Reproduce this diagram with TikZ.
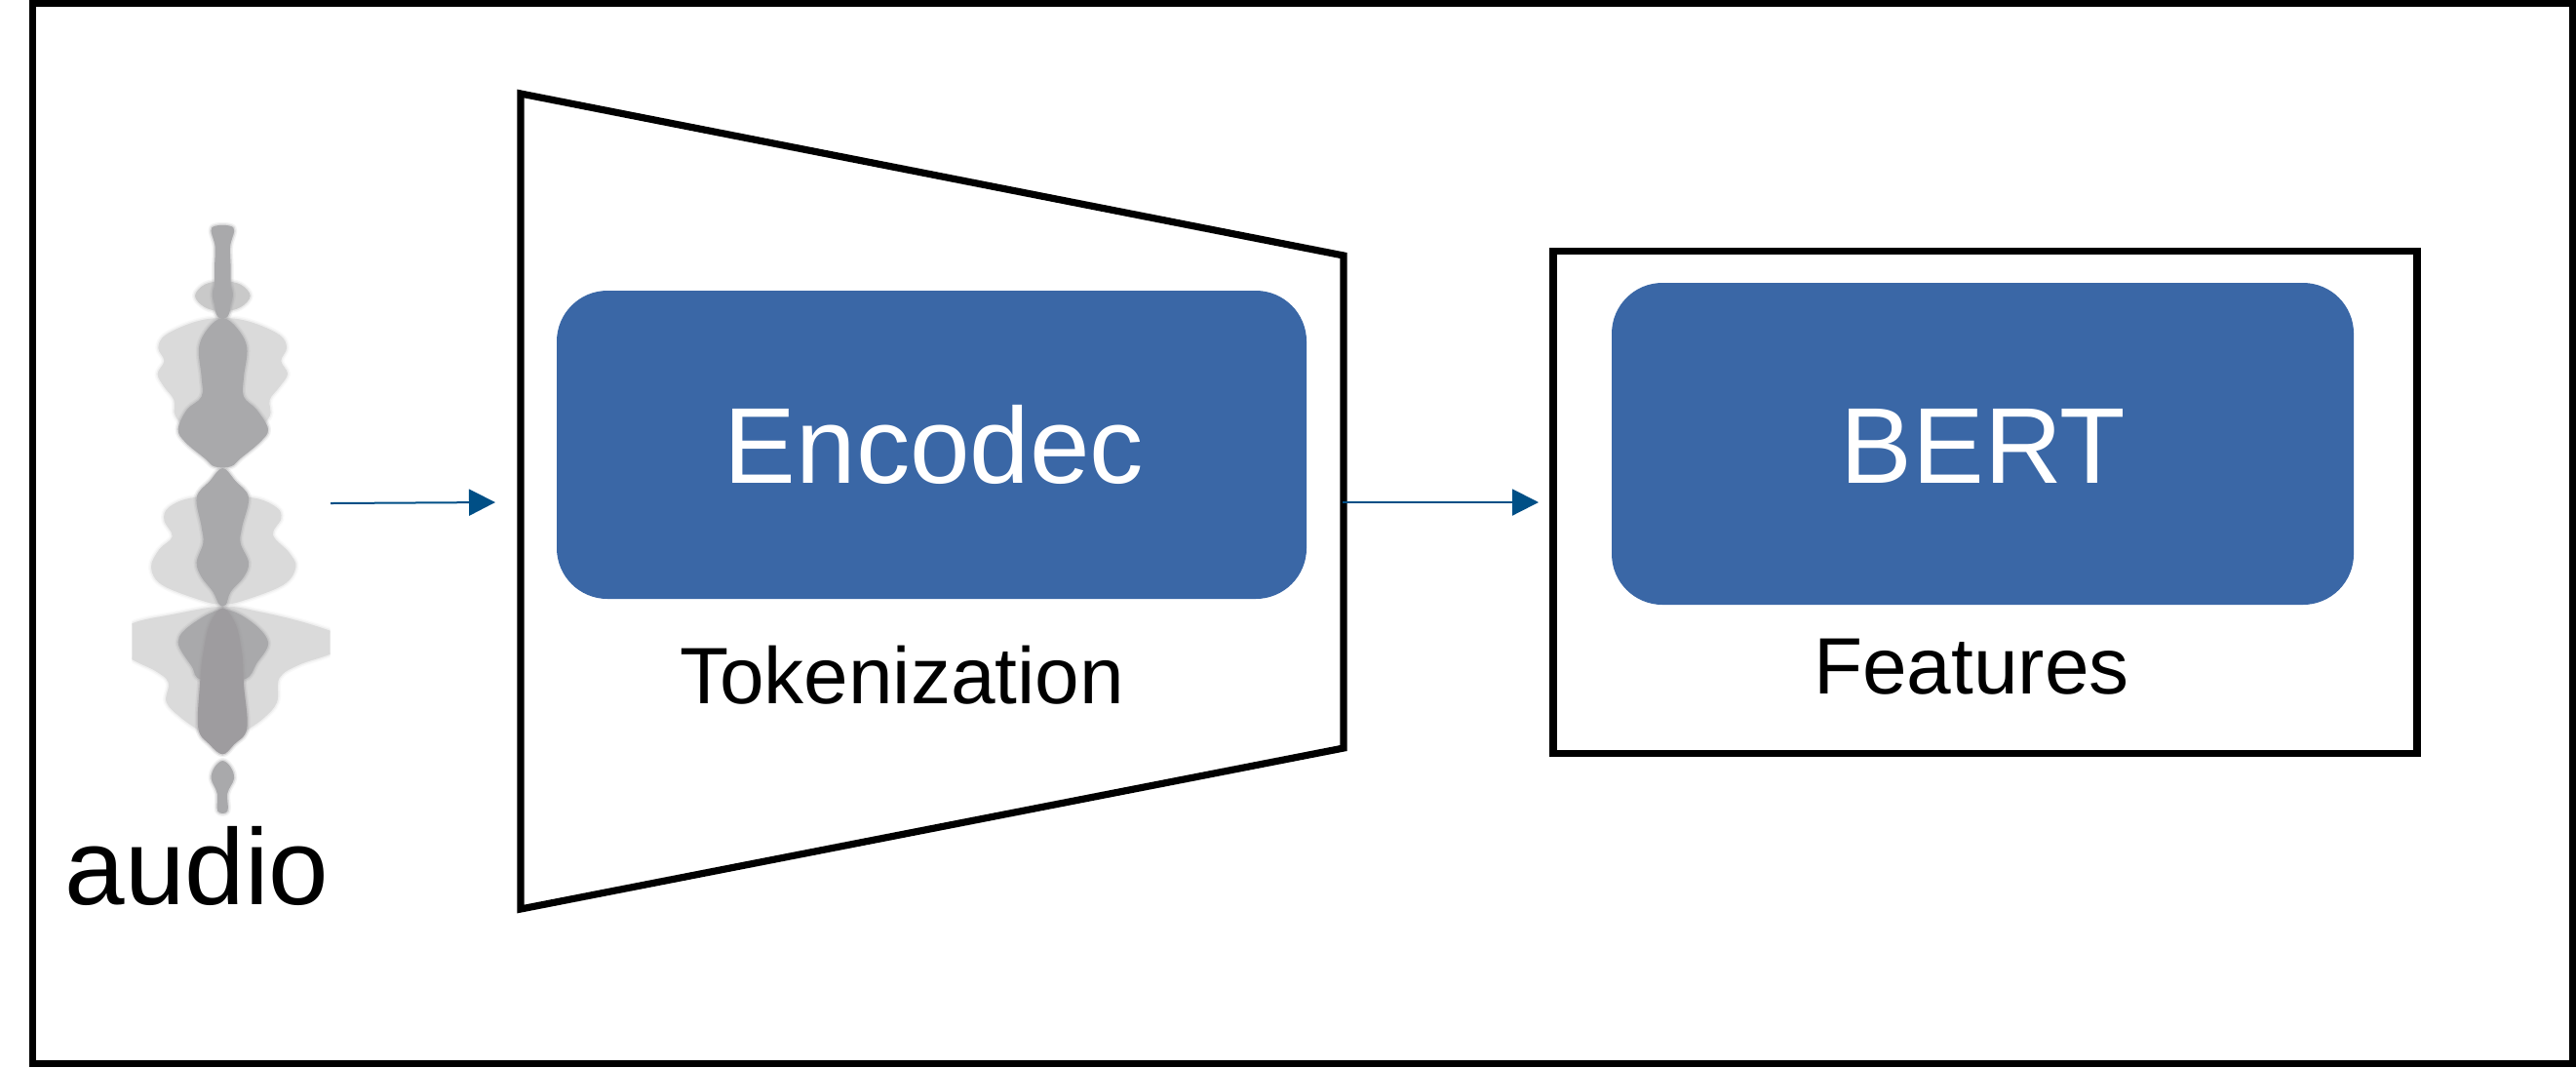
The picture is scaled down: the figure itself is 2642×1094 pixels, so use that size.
\documentclass[tikz,border=0pt]{standalone}
\usepackage{fontspec}
\setmainfont{Liberation Sans}
\usetikzlibrary{arrows.meta}
\definecolor{blockblue}{HTML}{3A67A6}
\definecolor{arrowblue}{HTML}{004F86}
\definecolor{wavelight}{HTML}{DADADA}
\definecolor{wavemid}{HTML}{A9A9AB}
\definecolor{wavedark}{HTML}{9E9C9F}
\definecolor{waveell}{HTML}{C9C9C9}
\newcommand\wavepart[2]{%
  \draw[draw=#1,line width=3pt,opacity=.15,line join=round] plot[smooth cycle,tension=.6] coordinates {#2};
  \draw[draw=#1,line width=1.5pt,opacity=.3,line join=round] plot[smooth cycle,tension=.6] coordinates {#2};
  \fill[#1] plot[smooth cycle,tension=.6] coordinates {#2};
}
\tikzset{
  x=0.5pt,y=-0.5pt,
  outerline/.style={draw=black,line width=3.65pt},
  frameline/.style={draw=black,line width=3.6pt,line join=miter},
  block/.style={fill=blockblue,rounded corners=26pt,inner sep=0pt,outer sep=0pt,text=white},
  bigtext/.style={font=\fontsize{55.3pt}{60pt}\selectfont,anchor=base,inner sep=0pt},
  smalltext/.style={font=\fontsize{41pt}{46pt}\selectfont,anchor=base,inner sep=0pt},
  flow/.style={draw=arrowblue,line width=1pt,-{Triangle[length=13.5pt,width=13.5pt,fill=arrowblue]}},
  wavetop/.style={shift={(100,220)},x=0.16667pt,y=-0.16667pt},
  wavelow/.style={shift={(100,520)},x=0.16667pt,y=-0.16667pt},
}
\begin{document}
\begin{tikzpicture}
\useasboundingbox (0,0) rectangle (2642,1094);
\fill[white] (0,0) rectangle (2642,1094);
\draw[outerline] (33.5,3.7) rectangle (2638.3,1090.3);
% waveform
\begin{scope}[wavetop]
\wavepart{waveell}{(385,205)(440,215)(470,250)(440,285)(385,298)(330,285)(300,250)(330,215)}
\wavepart{wavelight}{(385,318)(470,330)(560,370)(582,410)(565,450)(585,490)(560,530)(530,570)(530,620)(480,650)(290,650)(240,620)(235,570)(205,530)(185,490)(205,450)(187,410)(210,370)(300,330)}
\end{scope}
\begin{scope}[wavelow]
\wavepart{wavelight}{(300,-30)(470,-30)(550,0)(565,35)(540,85)(590,140)(610,185)(570,240)(440,290)(385,298)(330,290)(200,240)(165,185)(190,130)(230,90)(205,40)(220,0)}
\begin{scope}
\clip (106,-200) rectangle (716,1000);
\wavepart{wavelight}{(385,305)(500,322)(620,350)(716,380)(800,410)(716,452)(620,485)(560,525)(552,600)(510,650)(440,700)(385,750)(330,700)(260,650)(212,600)(218,540)(180,505)(106,468)(30,415)(106,358)(230,330)}
\end{scope}
\end{scope}
\begin{scope}[wavetop]
\wavepart{wavemid}{(352,40)(418,40)(408,100)(410,180)(405,305)(365,305)(360,180)(362,100)}
\wavepart{wavemid}{(385,200)(412,225)(415,260)(395,300)(375,300)(355,260)(358,225)}
\wavepart{wavemid}{(385,318)(430,350)(460,410)(450,500)(450,560)(490,600)(525,660)(500,700)(440,750)(410,775)(360,775)(330,750)(270,700)(248,660)(275,600)(320,560)(320,500)(312,410)(340,350)}
\end{scope}
\begin{scope}[wavelow]
\wavepart{wavemid}{(385,-120)(425,-80)(465,-30)(445,60)(440,110)(465,170)(450,215)(410,260)(395,300)(375,300)(355,260)(320,215)(305,170)(325,110)(320,60)(305,-30)(345,-80)}
\wavepart{wavemid}{(385,315)(470,350)(525,415)(490,480)(450,530)(320,530)(290,490)(248,415)(290,360)}
\wavepart{wavedark}{(385,310)(425,360)(445,450)(450,545)(460,680)(420,730)(385,760)(345,730)(310,680)(315,545)(325,450)(345,360)}
\wavepart{wavemid}{(385,780)(410,800)(420,835)(400,880)(400,935)(370,935)(368,880)(350,835)(360,800)}
\end{scope}
\node[bigtext] (audio) at (202,927) {audio};
% encoder
\coordinate (tl) at (534,96);
\coordinate (tr) at (1378,262);
\coordinate (br) at (1378,767);
\coordinate (bl) at (534,932);
\draw[frameline] (tl) -- (tr) -- (br) -- (bl) -- cycle;
\node[block,minimum width=769*0.5pt,minimum height=316*0.5pt] (enc) at (955.5,456) {};
\node[bigtext,text=white] (enctext) at (958,495) {Encodec};
\node[smalltext] (tok) at (925,721) {Tokenization};
% bert
\node[draw=black,line width=3.6pt,minimum width=886*0.5pt,minimum height=515*0.5pt,inner sep=0pt,outer sep=0pt] (frame) at (2036,515) {};
\node[block,minimum width=761*0.5pt,minimum height=330*0.5pt] (bert) at (2033.5,455) {};
\node[bigtext,text=white] (berttext) at (2034,495) {BERT};
\node[smalltext] (feat) at (2022,711) {Features};
% arrows
\coordinate (a1) at (339,516);
\coordinate (a2) at (508,515);
\coordinate (b1) at (1377,515);
\coordinate (b2) at (1578,515);
\draw[flow] (a1) -- (a2);
\draw[flow] (b1) -- (b2);
\end{tikzpicture}
\end{document}
